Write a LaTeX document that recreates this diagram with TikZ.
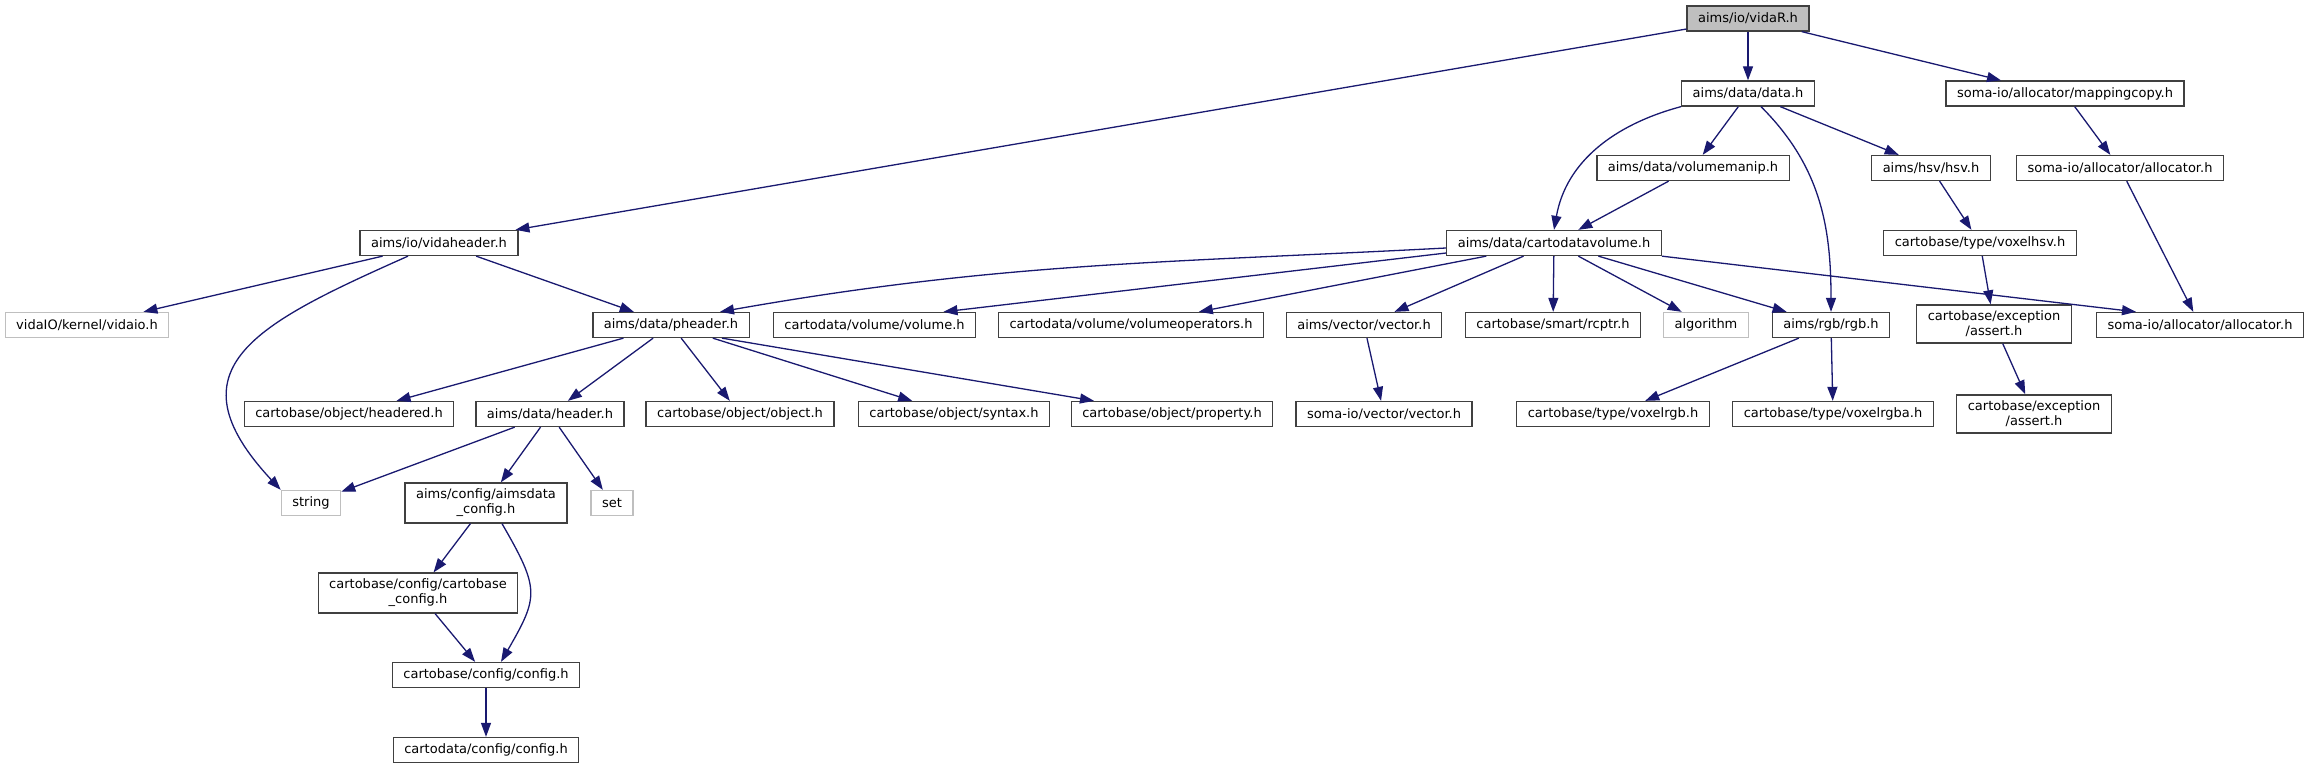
\documentclass[tikz,border=0pt]{standalone}
\usepackage{fontspec}
\setmainfont{DejaVu Sans}
\usepackage{tikz}
\usetikzlibrary{arrows.meta,calc}
\definecolor{edgeblue}{RGB}{25,25,112}
\definecolor{boxgrey}{RGB}{191,191,191}
\definecolor{boxline}{RGB}{64,64,64}

\begin{document}
\begin{tikzpicture}[->,>={Triangle[length=14pt,width=10pt]},x=1pt,y=1pt,
    every edge/.style={draw=edgeblue,line width=1.3pt},
    hfile/.style={draw=boxline,fill=white,line width=1.3pt,inner xsep=11pt,inner ysep=6pt,
                  minimum height=25pt,align=center,font=\fontsize{13}{15}\selectfont},
    sysfile/.style={hfile,draw=boxgrey},
    topfile/.style={hfile,fill=boxgrey}]
		\useasboundingbox (0,0) rectangle (2306,768);
		\node[topfile]  (vidaR)    at (1748,749.5) {aims/io/vidaR.h};
		\node[hfile]    (datah)    at (1748,674.5) {aims/data/data.h};
		\node[hfile]    (mapcopy)  at (2065,674.5) {soma-io/allocator/mappingcopy.h};
		\node[hfile]    (volmanip) at (1693,600)   {aims/data/volumemanip.h};
		\node[hfile]    (hsv)      at (1931,600)   {aims/hsv/hsv.h};
		\node[hfile]    (alloctop) at (2120,600)   {soma-io/allocator/allocator.h};
		\node[hfile]    (vidahdr)  at (439,525)    {aims/io/vidaheader.h};
		\node[hfile]    (cdvol)    at (1554,525)   {aims/data/cartodatavolume.h};
		\node[hfile]    (voxhsv)   at (1980,525)   {cartobase/type/voxelhsv.h};
		\node[sysfile]  (vidaio)   at (87,443)     {vidaIO/kernel/vidaio.h};
		\node[hfile]    (pheader)  at (671,443)    {aims/data/pheader.h};
		\node[hfile]    (volume)   at (874.5,443)  {cartodata/volume/volume.h};
		\node[hfile]    (volop)    at (1131,443)   {cartodata/volume/volumeoperators.h};
		\node[hfile]    (aimsvec)  at (1364,443)   {aims/vector/vector.h};
		\node[hfile]    (rcptr)    at (1553,443)   {cartobase/smart/rcptr.h};
		\node[sysfile]  (algo)     at (1706,443)   {algorithm};
		\node[hfile]    (rgb)      at (1831,443)   {aims/rgb/rgb.h};
		\node[hfile]    (excA)     at (1994,444)   {cartobase/exception\\/assert.h};
		\node[hfile]    (allocbot) at (2200,443)   {soma-io/allocator/allocator.h};
		\node[hfile]    (headered) at (349,354)    {cartobase/object/headered.h};
		\node[hfile]    (header)   at (550,354)    {aims/data/header.h};
		\node[hfile]    (object)   at (740,354)    {cartobase/object/object.h};
		\node[hfile]    (syntax)   at (954,354)    {cartobase/object/syntax.h};
		\node[hfile]    (property) at (1172,354)   {cartobase/object/property.h};
		\node[hfile]    (somavec)  at (1384,354)   {soma-io/vector/vector.h};
		\node[hfile]    (voxrgb)   at (1613,354)   {cartobase/type/voxelrgb.h};
		\node[hfile]    (voxrgba)  at (1833,354)   {cartobase/type/voxelrgba.h};
		\node[hfile]    (excB)     at (2034,354)   {cartobase/exception\\/assert.h};
		\node[sysfile]  (strinc)   at (311,265)    {string};
		\node[hfile]    (aimscfg)  at (486,265)    {aims/config/aimsdata\\\_config.h};
		\node[sysfile]  (setinc)   at (612,265)    {set};
		\node[hfile]    (cbcfg)    at (418,175)    {cartobase/config/cartobase\\\_config.h};
		\node[hfile]    (config)   at (486,93)     {cartobase/config/config.h};
		\node[hfile]    (cdcfg)    at (486,18)     {cartodata/config/config.h};
		% top part
		\path (vidaR)    edge                    (vidahdr)
		                 edge                    (datah)
		                 edge                    ([xshift=-64pt]mapcopy.north)
		      (datah.south west) edge [out=195,in=80] (cdvol.north)
		      (datah)    edge                    (volmanip)
		                 edge                    (hsv)
		      ([xshift=13pt]datah.south) edge [out=-45,in=90] (rgb.north)
		      (mapcopy)  edge                    (alloctop)
		      (volmanip) edge                    (cdvol)
		      (hsv)      edge                    (voxhsv)
		      (alloctop) edge                    (allocbot)
		      (voxhsv)   edge                    (excA)
		      (excA)     edge                    (excB);
		% vidaheader
		\path (vidahdr)  edge                    (vidaio)
		                 edge                    (pheader)
		      ([xshift=-31pt]vidahdr.south) edge [out=204,in=133,looseness=1.6] (strinc.north west);
		% cartodatavolume
		\path ([yshift=-5pt]cdvol.west)  edge [out=183,in=10] ([xshift=49pt]pheader.north)
		      ([yshift=-10pt]cdvol.west) edge    ([xshift=69pt]volume.north)
		      (cdvol)    edge                    (volop)
		                 edge                    (aimsvec)
		                 edge                    (rcptr)
		                 edge                    (algo)
		                 edge                    (rgb)
		      (cdvol.south east) edge            ([xshift=-64pt]allocbot.north);
		% pheader and below
		\path (pheader)  edge                    (headered)
		                 edge                    (header)
		                 edge                    (object)
		                 edge                    (syntax)
		      ([xshift=51pt]pheader.south) edge  (property)
		      (aimsvec)  edge                    (somavec)
		      (rgb)      edge                    (voxrgb)
		                 edge                    (voxrgba)
		      (header)   edge                    (strinc)
		                 edge                    (aimscfg)
		                 edge                    (setinc)
		      (aimscfg)  edge                    (cbcfg)
		      ([xshift=16pt]aimscfg.south) edge [out=-60,in=60,looseness=1.4] ([xshift=15pt]config.north)
		      (cbcfg)    edge                    (config)
		      (config)   edge                    (cdcfg);
\end{tikzpicture}
\end{document}
